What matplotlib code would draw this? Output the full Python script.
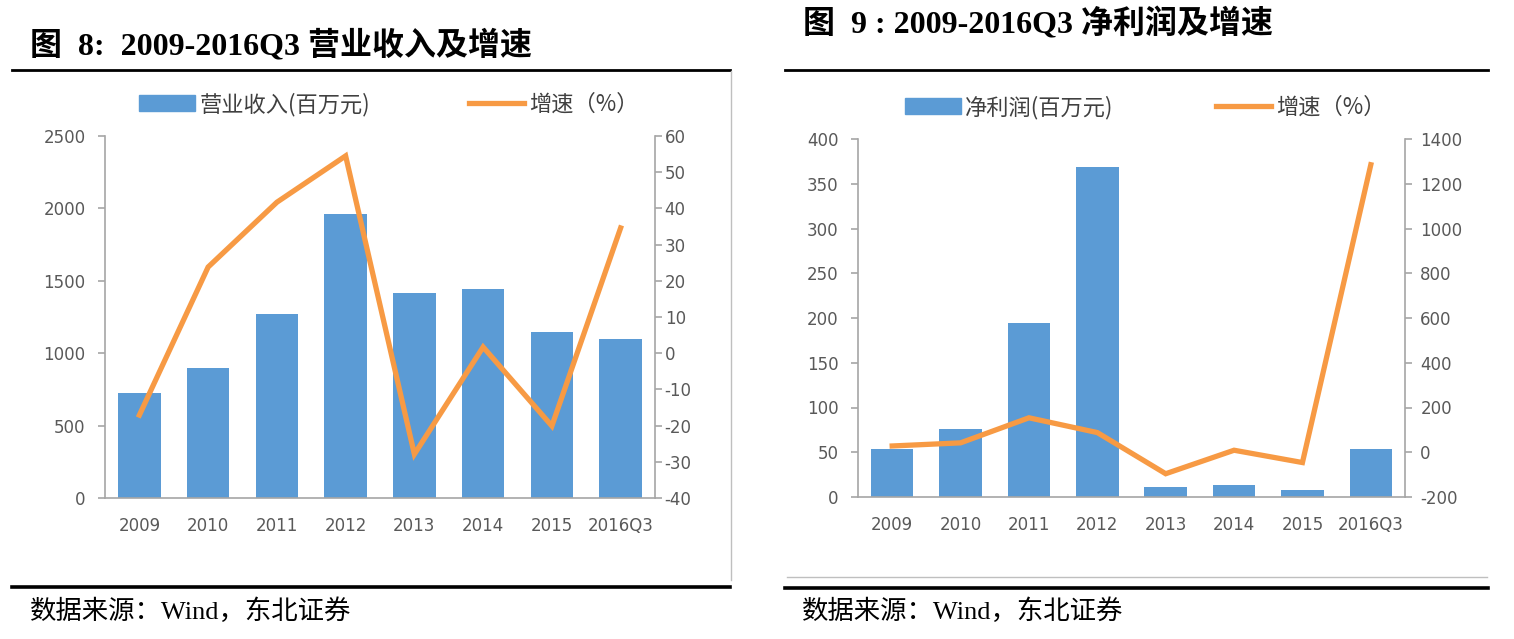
#!/usr/bin/env python3
import numpy as np
import matplotlib
matplotlib.use("Agg")
import matplotlib.pyplot as plt
from matplotlib.lines import Line2D
from matplotlib.patches import Patch

# %% Data
years = ["2009", "2010", "2011", "2012", "2013", "2014", "2015", "2016Q3"]

revenue = [722, 895, 1268, 1958, 1415, 1445, 1149, 1101]          # 百万元
revenue_growth = [-17.1, 23.8, 41.7, 54.5, -27.9, 1.7, -20.1, 34.6]  # %

profit = [53.7, 76.5, 194.4, 368.7, 11.6, 13.4, 7.5, 53.7]         # 百万元
profit_growth = [28, 42, 154, 88, -96, 9, -46, 1285]               # %

blue = "#5B9BD5"
orange = "#F79A44"
gray_txt = "#595959"
gray_ax = "#A6A6A6"

plt.rcParams["axes.unicode_minus"] = False

W, H = 1514, 639
fig = plt.figure(figsize=(W / 100, H / 100), dpi=100)

num_font = ["DejaVu Sans", "Noto Sans CJK SC"]
cjk_font = ["Noto Sans CJK SC", "DejaVu Sans"]
title_font = ["Liberation Serif", "Noto Sans CJK SC"]


def px_rect(x0, x1, y0, y1):
    return [x0 / W, 1 - y1 / H, (x1 - x0) / W, (y1 - y0) / H]


def hline(x0, x1, y, lw, color="black"):
    fig.add_artist(Line2D([x0 / W, x1 / W], [1 - y / H, 1 - y / H], lw=lw, color=color,
                          transform=fig.transFigure))


def draw_panel(rect, bars, growth, ylim, yticks, ylim2, yticks2, bar_label,
               pad_right, leg_x, colsp):
    ax = fig.add_axes(rect)
    x = np.arange(len(years))
    ax.bar(x, bars, width=0.62, color=blue, zorder=2)
    ax.set_xlim(-0.5, len(years) - 0.5)
    ax.set_ylim(*ylim)
    ax.set_yticks(yticks)
    ax.set_xticks(x)
    ax.set_xticklabels(years)
    ax.spines["top"].set_visible(False)
    ax.spines["right"].set_visible(False)
    for s in ["left", "bottom"]:
        ax.spines[s].set_color(gray_ax)
        ax.spines[s].set_linewidth(1.2)
    ax.tick_params(axis="y", colors=gray_ax, labelcolor=gray_txt, length=5, width=1.2,
                   pad=9, labelsize=12)
    ax.tick_params(axis="x", length=0, labelcolor=gray_txt, pad=14, labelsize=12)
    for lab in ax.get_xticklabels() + ax.get_yticklabels():
        lab.set_family(num_font)

    ax2 = ax.twinx()
    ax2.plot(x, growth, color=orange, lw=3.8, solid_joinstyle="miter", zorder=3)
    ax2.set_ylim(*ylim2)
    ax2.set_yticks(yticks2)
    for s in ["top", "left", "bottom"]:
        ax2.spines[s].set_visible(False)
    ax2.spines["right"].set_color(gray_ax)
    ax2.spines["right"].set_linewidth(1.2)
    ax2.tick_params(axis="y", colors=gray_ax, labelcolor=gray_txt, length=5, width=1.2,
                    pad=pad_right, labelsize=12)
    for lab in ax2.get_yticklabels():
        lab.set_family(num_font)

    handles = [Patch(color=blue), Line2D([0], [0], color=orange, lw=3.8)]
    ax.legend(handles, [bar_label, "增速（%）"], ncol=2, frameon=False,
              loc="lower center", bbox_to_anchor=(leg_x, 1.0), columnspacing=colsp,
              handlelength=2.5, handleheight=0.7, handletextpad=0.2,
              prop={"family": cjk_font, "size": 16}, labelcolor="#404040")
    return ax, ax2


# %% Left panel: 营业收入
draw_panel(px_rect(105, 655, 136, 498), revenue, revenue_growth,
           (0, 2500), np.arange(0, 2501, 500), (-40, 60), np.arange(-40, 61, 10),
           "营业收入(百万元)", 2, 0.516, 4.45)

# %% Right panel: 净利润
draw_panel(px_rect(858, 1405, 139, 497), profit, profit_growth,
           (0, 400), np.arange(0, 401, 50), (-200, 1400), np.arange(-200, 1401, 200),
           "净利润(百万元)", 6, 0.525, 4.6)

# %% Titles, rules, source notes
fig.text(30 / W, 1 - 46 / H, "图  8:  2009-2016Q3 营业收入及增速", fontsize=23,
         fontweight="bold", family=title_font, va="center", ha="left")
fig.text(803 / W, 1 - 24 / H, "图  9 : 2009-2016Q3 净利润及增速", fontsize=23,
         fontweight="bold", family=title_font, va="center", ha="left")

hline(12, 730, 70, 2.0)
hline(785, 1488, 70, 2.0)
hline(12, 730, 587, 2.6)
hline(785, 1488, 588, 2.6)
hline(787, 1487, 577, 1.0, color="#BFBFBF")
fig.add_artist(Line2D([731 / W, 731 / W], [1 - 71 / H, 1 - 580 / H], lw=1.0,
                      color="#BFBFBF", transform=fig.transFigure))

fig.text(30 / W, 1 - 611 / H, "数据来源：Wind，东北证券", fontsize=19,
         family=title_font, va="center", ha="left")
fig.text(802 / W, 1 - 611 / H, "数据来源：Wind，东北证券", fontsize=19,
         family=title_font, va="center", ha="left")

plt.savefig("out.png", dpi=100)
